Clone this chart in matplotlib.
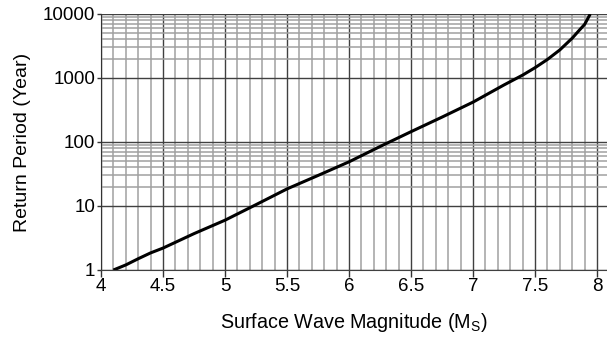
import matplotlib
matplotlib.use("Agg")
import matplotlib.pyplot as plt
from matplotlib.ticker import MultipleLocator, FixedLocator, NullFormatter

plt.rcParams['font.family'] = ['Liberation Sans', 'DejaVu Sans']
plt.rcParams['mathtext.fontset'] = 'custom'
plt.rcParams['mathtext.rm'] = 'Liberation Sans'
plt.rcParams['mathtext.it'] = 'Liberation Sans'

magnitude = [4.1, 4.2, 4.3, 4.4, 4.5, 4.75, 5.0, 5.25, 5.5, 5.75, 6.0, 6.25,
             6.5, 6.75, 7.0, 7.25, 7.4, 7.5, 7.6, 7.7, 7.8, 7.85, 7.9, 7.945]
return_period = [1.0, 1.2, 1.5, 1.85, 2.2, 3.7, 6.0, 10.5, 18.5, 30, 49, 85,
                 145, 245, 420, 780, 1110, 1450, 1950, 2750, 4200, 5400, 6900, 10000]

x_ticks = [4, 4.5, 5, 5.5, 6, 6.5, 7, 7.5, 8]
x_tick_labels = ['4', '4.5', '5', '5.5', '6', '6.5', '7', '7.5', '8']
y_ticks = [1, 10, 100, 1000, 10000]
y_tick_labels = ['1', '10', '100', '1000', '10000']
y_minor = [20, 30, 40, 50, 60, 70, 80, 90,
           2000, 3000, 4000, 5000, 6000, 7000, 8000, 9000]

fig = plt.figure(figsize=(6.07, 3.39), dpi=100)
ax = fig.add_axes([101/607, 1 - 270/339, 1 - 101/607, (270 - 14)/339])

ax.set_yscale('log')
ax.set_xlim(4, 8.08)
ax.set_ylim(1, 10000)

ax.set_xticks(x_ticks)
ax.set_xticklabels(x_tick_labels)
ax.set_yticks(y_ticks)
ax.set_yticklabels(y_tick_labels)
ax.xaxis.set_minor_locator(MultipleLocator(0.1))
ax.yaxis.set_minor_locator(FixedLocator(y_minor))
ax.yaxis.set_minor_formatter(NullFormatter())

ax.grid(which='minor', color='#a0a0a0', lw=1.1)
ax.grid(which='major', color='#404040', lw=1.0)
ax.set_axisbelow(True)

ax.tick_params(which='minor', length=0)
ax.tick_params(axis='x', which='major', length=5, width=1, color='#333333',
               labelsize=13.5, pad=1)
ax.tick_params(axis='y', which='major', length=3, width=1, color='#333333',
               labelsize=13.5, pad=1)

for s in ['top', 'right']:
    ax.spines[s].set_visible(False)
ax.spines['left'].set_color('#333333')
ax.spines['bottom'].set_color('#404040')

ax.plot(magnitude, return_period, color='black', lw=2.2, solid_capstyle='butt')

ax.set_xlabel('Surface Wave Magnitude (M$_\\mathrm{S}$)', fontsize=14.2, labelpad=11)
ax.set_ylabel('Return Period (Year)', fontsize=14, labelpad=9)

fig.savefig('out.png', dpi=100)
